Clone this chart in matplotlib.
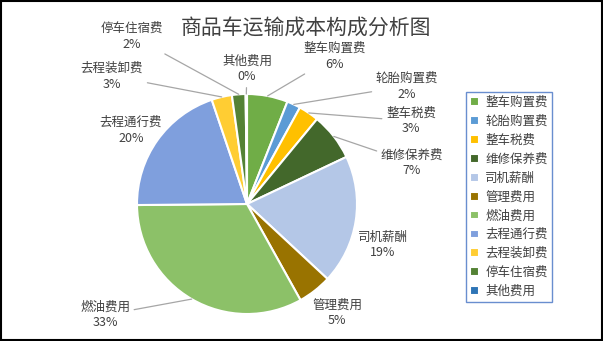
import numpy as np
import matplotlib.pyplot as plt
from matplotlib.patches import Rectangle

plt.rcParams['font.family'] = ['Noto Sans CJK SC', 'DejaVu Sans']

categories = ["整车购置费", "轮胎购置费", "整车税费", "维修保养费", "司机薪酬", "管理费用",
              "燃油费用", "去程通行费", "去程装卸费", "停车住宿费", "其他费用"]
shares = [6, 2, 3, 7, 19, 5, 33, 20, 3, 2, 0.2]
colors = ["#70AD47", "#5B9BD5", "#FFC000", "#43682B", "#B4C7E7", "#997300",
          "#8CC168", "#7F9FDD", "#FFCD33", "#548235", "#2E75B6"]

# label centres in pixel coords (x, y from top) and whether a leader line is drawn
label_pos = [(335, 56), (407, 86), (411, 121), (412, 163), (383, 245), (337, 313),
             (105, 315), (131, 130), (112, 76), (132, 36), (247, 69)]
leader = [True, True, True, True, False, False, True, False, True, True, True]

W, H = 603, 341
fig = plt.figure(figsize=(W / 100, H / 100), dpi=100)
ax = fig.add_axes([0, 0, 1, 1])

cx, cy, r = 247, H - 204, 110
wedges, _ = ax.pie(shares, colors=colors, startangle=90, counterclock=False,
                   center=(cx, cy), radius=r, frame=True,
                   wedgeprops=dict(edgecolor="white", linewidth=1.5))
ax.set_xlim(0, W)
ax.set_ylim(0, H)
ax.set_aspect("equal")
ax.axis("off")

total = sum(shares)
for w, name, v, (lx, ly), has_line in zip(wedges, categories, shares, label_pos, leader):
    txt = f"{name}\n{v / total * 100:.0f}%"
    mid = np.deg2rad((w.theta1 + w.theta2) / 2)
    px, py = cx + r * np.cos(mid), cy + r * np.sin(mid)
    if has_line:
        ax.annotate(txt, xy=(px, py), xytext=(lx, H - ly), ha="center", va="center",
                    fontsize=9, color="#404040", linespacing=1.3,
                    arrowprops=dict(arrowstyle="-", color="#A6A6A6", lw=0.9,
                                    shrinkA=1, shrinkB=0))
    else:
        ax.text(lx, H - ly, txt, ha="center", va="center", fontsize=9,
                color="#404040", linespacing=1.3)

ax.text(306, H - 28, "商品车运输成本构成分析图", ha="center", va="center",
        fontsize=15, color="#404040")

leg = ax.legend(wedges, categories, loc="upper left", bbox_to_anchor=(462 / W, 1 - 88 / H),
                bbox_transform=fig.transFigure, fontsize=9, frameon=True, fancybox=False,
                handlelength=0.7, handleheight=0.7, handletextpad=0.5, labelspacing=0.47,
                borderpad=0.35, borderaxespad=0.3, labelcolor="#404040")
leg.get_frame().set_edgecolor("#4472C4")
leg.get_frame().set_linewidth(1.0)

fig.patches.append(Rectangle((0.001, 0.003), 0.997, 0.995, transform=fig.transFigure,
                             fill=False, edgecolor="black", linewidth=1.5))

fig.savefig("out.png", dpi=100)
